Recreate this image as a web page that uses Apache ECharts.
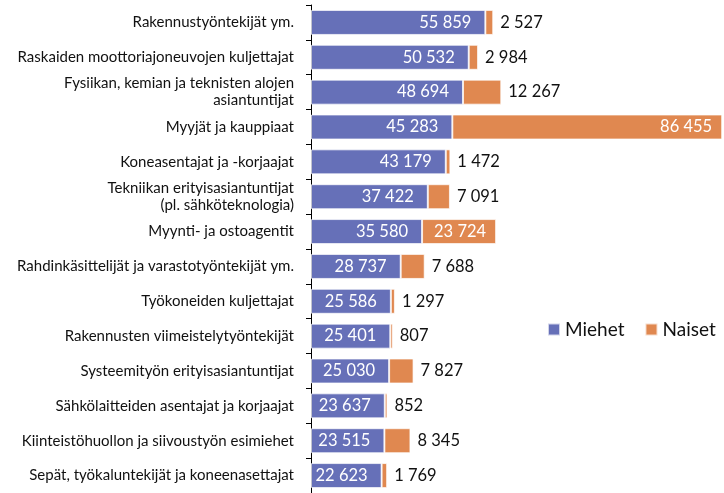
<!DOCTYPE html>
<html>
<head>
<meta charset="utf-8">
<script src="https://cdn.jsdelivr.net/npm/echarts@6/dist/echarts.min.js"></script>
<style>
  html, body { margin: 0; padding: 0; background: #fff; }
  #chart { width: 724px; height: 493px; }
</style>
</head>
<body>
<div id="chart"></div>
<script>
const categories = [
  'Rakennustyöntekijät ym.',
  'Raskaiden moottoriajoneuvojen kuljettajat',
  'Fysiikan, kemian ja teknisten alojen\nasiantuntijat',
  'Myyjät ja kauppiaat',
  'Koneasentajat ja -korjaajat',
  'Tekniikan erityisasiantuntijat\n(pl. sähköteknologia)',
  'Myynti- ja ostoagentit',
  'Rahdinkäsittelijät ja varastotyöntekijät ym.',
  'Työkoneiden kuljettajat',
  'Rakennusten viimeistelytyöntekijät',
  'Systeemityön erityisasiantuntijat',
  'Sähkölaitteiden asentajat ja korjaajat',
  'Kiinteistöhuollon ja siivoustyön esimiehet',
  'Sepät, työkaluntekijät ja koneenasettajat'
];
const miehet = [55859, 50532, 48694, 45283, 43179, 37422, 35580, 28737, 25586, 25401, 25030, 23637, 23515, 22623];
const naiset = [2527, 2984, 12267, 86455, 1472, 7091, 23724, 7688, 1297, 807, 7827, 852, 8345, 1769];

const fmt = v => String(v).replace(/\B(?=(\d{3})+(?!\d))/g, ' ');
const font = 'Lato, "Open Sans", sans-serif';

const chart = echarts.init(document.getElementById('chart'));

const naisetData = naiset.map(v => {
  const inside = v > 20000;
  return {
    value: v,
    label: inside
      ? { position: 'insideRight', color: '#fff', distance: 10 }
      : { position: 'right', color: '#111', distance: 7 }
  };
});

chart.setOption({
  animation: false,
  textStyle: { fontFamily: font },
  grid: { left: 311, right: 1, top: 5, bottom: 0, containLabel: false },
  legend: {
    data: ['Miehet', 'Naiset'],
    orient: 'horizontal',
    left: 547,
    top: 320,
    width: 220,
    padding: 0,
    itemWidth: 12,
    itemHeight: 12,
    itemGap: 20,
    icon: 'rect',
    textStyle: { fontSize: 19, color: '#111', fontFamily: font }
  },
  xAxis: {
    type: 'value',
    min: 0,
    max: 132000,
    show: false
  },
  yAxis: {
    type: 'category',
    inverse: true,
    data: categories,
    axisLine: { show: true, lineStyle: { color: '#000', width: 1 } },
    axisTick: { show: true, length: 5, lineStyle: { color: '#000' } },
    axisLabel: {
      margin: 17,
      fontSize: 15,
      lineHeight: 17,
      color: '#111',
      fontFamily: font
    }
  },
  series: [
    {
      name: 'Miehet',
      type: 'bar',
      stack: 'a',
      barWidth: 25,
      data: miehet,
      itemStyle: { color: '#6670b8', borderColor: 'rgba(255,255,255,0.7)', borderWidth: 1 },
      label: {
        show: true,
        position: 'insideRight',
        distance: 14,
        color: '#fff',
        fontSize: 16.5,
        fontFamily: font,
        formatter: p => fmt(p.value)
      }
    },
    {
      name: 'Naiset',
      type: 'bar',
      stack: 'a',
      barWidth: 25,
      data: naisetData,
      itemStyle: { color: '#e08850', borderColor: 'rgba(255,255,255,0.7)', borderWidth: 1 },
      label: {
        show: true,
        fontSize: 16.5,
        fontFamily: font,
        formatter: p => fmt(p.value)
      }
    }
  ]
});
</script>
</body>
</html>
